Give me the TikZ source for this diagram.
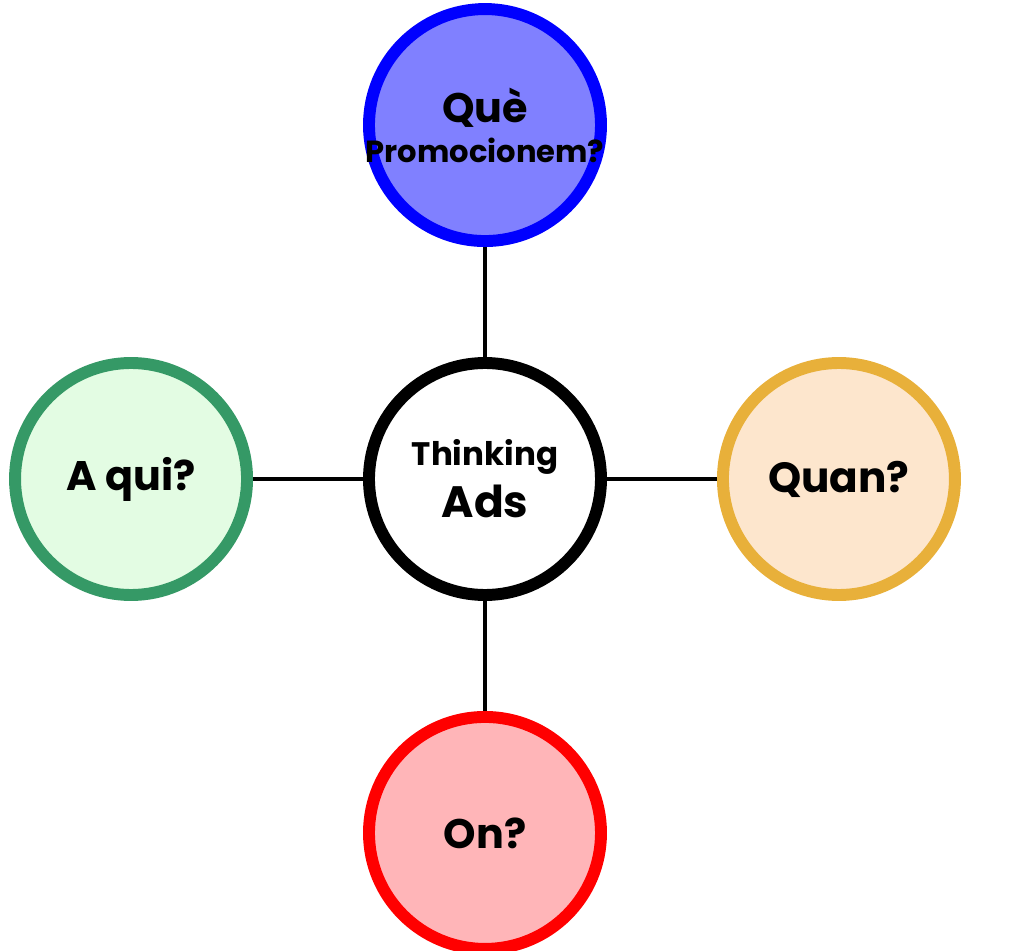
\documentclass[tikz,border=0pt]{standalone}
\usepackage{fontspec}
\setmainfont{Poppins}
\usetikzlibrary{positioning}
\definecolor{queline}{HTML}{0000FF}
\definecolor{quefill}{HTML}{8080FF}
\definecolor{quiline}{HTML}{359966}
\definecolor{quifill}{HTML}{E3FCE3}
\definecolor{quanline}{HTML}{E8B03A}
\definecolor{quanfill}{HTML}{FDE6CD}
\definecolor{online}{HTML}{FF0000}
\definecolor{onfill}{HTML}{FFB5B8}
\newcommand{\zw}[1]{\makebox[0pt]{#1}}
\begin{document}
\begin{tikzpicture}[
  bubble/.style={circle,line width=6.8pt,minimum size=4.64cm,inner sep=0pt,align=center,font=\bfseries},
  link/.style={line width=2.8pt},
  node distance=2.2cm]
\useasboundingbox (-9.7,-9.44) rectangle (10.9,9.58);
\node[bubble,draw=black,fill=white] (think) at (0,0){\fontsize{18.5}{20}\selectfont\zw{Thinking}\\[5pt]\fontsize{25}{26}\selectfont\zw{Ads}};
\node[bubble,draw=queline,fill=quefill,above=of think] (what){\fontsize{23.5}{26}\selectfont\zw{Què}\\[5pt]\fontsize{17.4}{18}\selectfont\zw{Promocionem?}};
\node[bubble,draw=quiline,fill=quifill,left=of think] (who){\fontsize{23.5}{26}\selectfont A qui?};
\node[bubble,draw=quanline,fill=quanfill,right=of think] (when){\fontsize{24}{26}\selectfont Quan?};
\node[bubble,draw=online,fill=onfill,below=of think] (where){\fontsize{23.5}{26}\selectfont On?};
\draw[link] (think) -- (what);
\draw[link] (think) -- (who);
\draw[link] (think) -- (when);
\draw[link] (think) -- (where);
\end{tikzpicture}
\end{document}
